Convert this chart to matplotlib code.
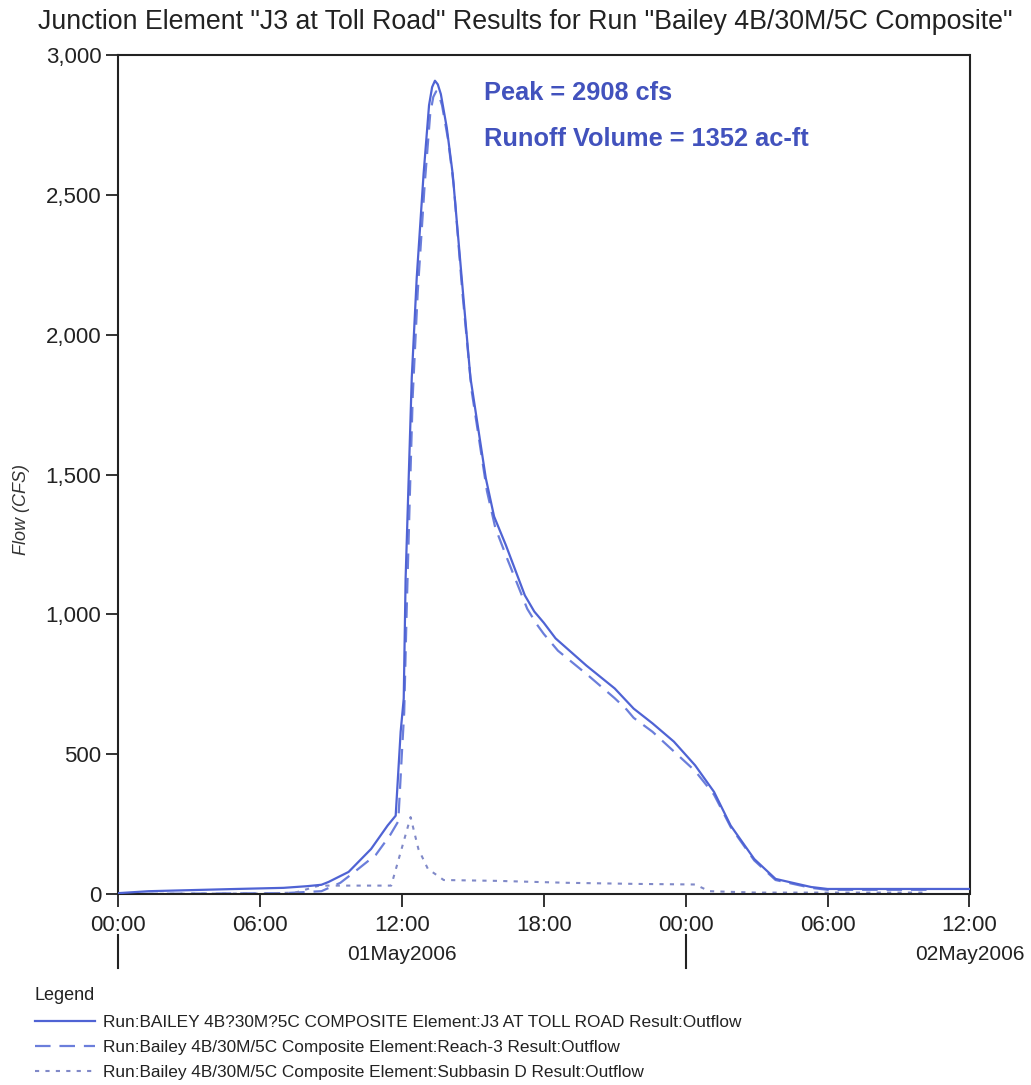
import matplotlib
matplotlib.use("Agg")
import matplotlib.pyplot as plt
import matplotlib.transforms as mtransforms
from matplotlib.ticker import FuncFormatter, FixedLocator

plt.rcParams['font.family'] = ['Liberation Sans', 'DejaVu Sans']

# ---- data (hours since 01May2006 00:00, flow in cfs) ----
hours_total = [0.0, 1.3, 5.0, 7.0, 8.0, 8.6, 8.9, 9.75, 10.7, 11.4, 11.74, 11.95, 12.08, 12.12,
               12.16, 12.29, 12.42, 12.63, 12.92, 13.15, 13.28, 13.4, 13.52, 13.65, 13.9, 14.15,
               14.53, 14.9, 15.55, 15.9, 16.4, 17.2, 17.6, 18.0, 18.5, 19.8, 21.0, 21.5, 21.8,
               22.6, 23.5, 24.4, 25.2, 25.9, 26.9, 27.8, 29.3, 30.0, 34.2, 36.0]
flow_total = [3, 10, 18, 22, 28, 33, 43, 79, 161, 245, 280, 580, 699, 914,
              1129, 1487, 1846, 2204, 2575, 2820, 2885, 2908, 2895, 2860, 2740, 2575,
              2204, 1846, 1487, 1350, 1247, 1068, 1010, 970, 914, 817, 735, 690, 663,
              610, 545, 460, 365, 245, 125, 54, 25, 18, 18, 18]

hours_reach = [0.0, 4.5, 7.0, 8.6, 9.4, 10.0, 10.9, 11.5, 11.85, 12.0, 12.1, 12.2, 12.33,
               12.46, 12.67, 12.96, 13.2, 13.33, 13.45, 13.57, 13.7, 13.95, 14.2, 14.55, 14.95,
               15.6, 15.95, 16.45, 17.3, 17.7, 18.0, 18.6, 19.9, 21.0, 21.5, 21.8, 22.6, 23.5,
               24.4, 25.2, 25.9, 26.9, 27.8, 29.3, 30.0, 34.2]
flow_reach = [0, 2, 3, 10, 40, 79, 140, 210, 260, 500, 650, 1000, 1400,
              1780, 2150, 2530, 2790, 2850, 2870, 2855, 2820, 2700, 2530, 2160, 1800,
              1440, 1310, 1200, 1020, 965, 930, 870, 780, 700, 660, 630, 580, 510,
              440, 355, 240, 120, 50, 22, 15, 15]

hours_sub = [0.0, 6.0, 7.5, 8.5, 11.55, 12.37, 12.7, 13.1, 13.77, 16.0, 19.0, 22.0, 24.4,
             25.0, 27.0, 34.2]
flow_sub = [0, 2, 5, 30, 30, 275, 161, 90, 50, 47, 40, 36, 34, 10, 5, 5]

x_ticks = [0, 6, 12, 18, 24, 30, 36]
x_tick_labels = ["00:00", "06:00", "12:00", "18:00", "00:00", "06:00", "12:00"]
y_ticks = [0, 500, 1000, 1500, 2000, 2500, 3000]
day_bounds = [0, 24]
day_labels = [(12, "01May2006"), (36, "02May2006")]

labels = [
    "Run:BAILEY 4B?30M?5C COMPOSITE Element:J3 AT TOLL ROAD Result:Outflow",
    "Run:Bailey 4B/30M/5C Composite Element:Reach-3 Result:Outflow",
    "Run:Bailey 4B/30M/5C Composite Element:Subbasin D Result:Outflow",
]
title = 'Junction Element "J3 at Toll Road" Results for Run "Bailey 4B/30M/5C Composite"'

# ---- figure ----
W, H = 1031, 1085
fig = plt.figure(figsize=(W / 100, H / 100), dpi=100)
ax = fig.add_axes([118 / W, 1 - 894 / H, (969.5 - 118) / W, (894 - 55) / H])

ax.plot(hours_total, flow_total, color='#4f63d4', lw=1.6, solid_joinstyle='round', label=labels[0], zorder=3)
ax.plot(hours_reach, flow_reach, color='#6b7edb', lw=1.6, dashes=(7, 4), label=labels[1], zorder=2)
ax.plot(hours_sub, flow_sub, color='#8089c8', lw=1.5, dashes=(2, 3), label=labels[2], zorder=2)

ax.set_xlim(0, 36)
ax.set_ylim(0, 3000)
ax.xaxis.set_major_locator(FixedLocator(x_ticks))
ax.set_xticklabels(x_tick_labels)
ax.yaxis.set_major_locator(FixedLocator(y_ticks))
ax.yaxis.set_major_formatter(FuncFormatter(lambda v, p: f"{int(v):,}"))
ax.tick_params(axis='both', direction='out', length=9, width=1.3, labelsize=16, colors='#222222')
ax.tick_params(axis='x', pad=6)
ax.tick_params(axis='y', pad=3)
for s in ax.spines.values():
    s.set_linewidth(1.5)
    s.set_color('#222222')

ax.set_ylabel("Flow (CFS)", fontsize=13, style='italic', color='#333333')
ax.yaxis.set_label_coords(-0.103, 0.458)

# day labels and day boundary ticks below the time axis
trans = mtransforms.blended_transform_factory(ax.transData, ax.transAxes)
for d in day_bounds:
    ax.plot([d, d], [-0.049, -0.088], transform=trans, color='#222222', lw=1.5, clip_on=False)
for xpos, txt in day_labels:
    ax.text(xpos, -0.072, txt, transform=trans, ha='center', va='center', fontsize=15, color='#222222')

# annotation
ax.text(0.4295, 0.955, "Peak = 2908 cfs", transform=ax.transAxes, fontsize=18.3, fontweight='bold',
        color='#4252bd', ha='left', va='center')
ax.text(0.4295, 0.9, "Runoff Volume = 1352 ac-ft", transform=ax.transAxes, fontsize=18.3,
        fontweight='bold', color='#4252bd', ha='left', va='center')

# title
fig.text(38 / W, 1 - 22 / H, title, fontsize=19.3, color='#222222', ha='left', va='center')

# legend
leg = fig.legend(loc='upper left', bbox_to_anchor=(19 / W, 1 - 972 / H), frameon=False,
                 title='Legend', fontsize=12.4, title_fontsize=13, handlelength=3.5,
                 labelspacing=0.58, alignment='left', handletextpad=0.45)
for t in leg.get_texts():
    t.set_color('#222222')
leg.get_title().set_color('#222222')

fig.savefig("out.png", dpi=100)
